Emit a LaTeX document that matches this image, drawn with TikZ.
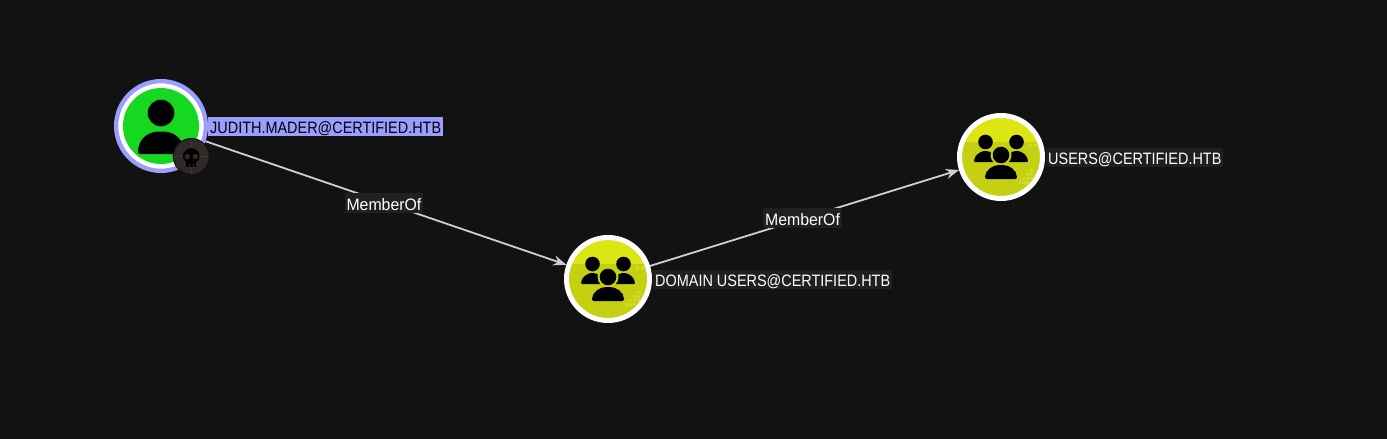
\documentclass[tikz,border=0pt]{standalone}
\usepackage{fontspec}
\setmainfont{Liberation Sans}[FakeStretch=0.875]
\newfontfamily\edgefont{Liberation Sans}[FakeStretch=0.96]
\usetikzlibrary{arrows.meta, positioning, calc}
\definecolor{bgdark}{HTML}{121212}
\definecolor{ringblue}{HTML}{9A9EFF}
\definecolor{usergreen}{HTML}{17D820}
\definecolor{groupbright}{HTML}{DCE612}
\definecolor{groupdim}{HTML}{C6D012}
\definecolor{groupspeck}{HTML}{D2DB26}
\definecolor{tagdark}{HTML}{202020}
\definecolor{badgebrown}{HTML}{2F2927}
\definecolor{badgeline}{HTML}{3E3532}
\definecolor{edgegrey}{HTML}{D0D0D0}
\tikzset{
    groupnode/.style={circle, draw=white, line width=5pt, minimum size=83pt, inner sep=0pt,
        path picture={
            \fill[groupdim] (path picture bounding box.south west) rectangle (path picture bounding box.north east);
            \fill[groupbright] (path picture bounding box.north west) rectangle ($(path picture bounding box.east)+(0,-15)$);
            % Faint specks
            \foreach \dx/\dy in {17/24, 21/20, 25/16, 21/24, 25/20, 29/16, 25/24, 29/12, 29/20, 33/-13, 28/-13} {
                \fill[groupspeck] ($(path picture bounding box.center)+(\dx,\dy)$) rectangle +(3,3);
            }
        }},
    nametag/.style={fill=tagdark, text=white, inner xsep=2pt, inner ysep=0pt, text height=17pt, text depth=2.6pt, font=\fontsize{16.5}{18}\selectfont},
    edgetag/.style={nametag, midway, xshift=-2pt, font=\edgefont\fontsize{16.5}{18}\selectfont},
    memberedge/.style={-{Stealth[length=13pt, width=10pt]}, edgegrey, line width=1.8pt},
    person/.pic={
        \fill (0,-13) circle (13.3);
        \fill[rounded corners=2pt] (-23,28) .. controls (-23,13) and (-13,5.5) .. (0,5.5) .. controls (13,5.5) and (23,13) .. (23,28) -- cycle;
    },
    people/.pic={
        % Back pair
        \foreach \s in {-1,1} {
            \fill (\s*15.5,-15) circle (7.3);
            \fill[rounded corners=1pt] (\s*27,5) .. controls (\s*27,-1) and (\s*21,-6) .. (\s*15.5,-6) .. controls (\s*10,-6) and (\s*5,-1) .. (\s*5,5) -- cycle;
        }
        % Front one
        \fill[groupdim] (0,-2) circle (10.5);
        \fill (0,-2) circle (8.3);
        \fill[rounded corners=2pt] (-16,22) .. controls (-16,13) and (-8,8) .. (0,8) .. controls (8,8) and (16,13) .. (16,22) -- cycle;
    },
    skull/.pic={
        \fill (0,-0.5) ellipse (8.3 and 7.8);
        \fill (-5,4) rectangle (5,10.5);
        \fill[badgebrown] (-4,0) circle (2.7);
        \fill[badgebrown] (4,0) circle (2.7);
        \foreach \dx in {-1.7,1.7} {
            \draw[badgebrown, line width=0.7pt] (\dx,7) -- (\dx,10.5);
        }
    }
}
\begin{document}
\begin{tikzpicture}[x=1pt, y=-1pt, >=Stealth]
    \fill[bgdark] (0,0) rectangle (1387,439);
    \useasboundingbox (0,0) rectangle (1387,439);
    % User node with its ring
    \node[circle, draw=ringblue, fill=white, line width=4.3pt, minimum size=89.7pt, inner sep=0pt] (user) at (161,126) {};
    \fill[usergreen] (user) circle (38);
    \pic at (user) {person};
    \node[nametag, fill=ringblue, text=black, right=0pt of user, yshift=-0.5pt] (userlabel) {JUDITH.MADER@CERTIFIED.HTB};
    % Owned badge
    \node[circle, fill=badgebrown, draw=bgdark, line width=1pt, minimum size=36pt, inner sep=0pt] (badge) at (191.3,156.5) {};
    \draw[badgeline, line width=0.6pt, shorten >=1.5pt, shorten <=1.5pt] (badge.north) -- (badge.south);
    \draw[badgeline, line width=0.6pt, shorten >=1.5pt, shorten <=1.5pt] (badge.west) -- (badge.east);
    \pic at (badge) {skull};
    % Group nodes
    \node[groupnode] (dgroup) at (608,279) {};
    \pic at (dgroup) {people};
    \node[nametag, right=1pt of dgroup, yshift=-0.5pt] (dlabel) {DOMAIN USERS@CERTIFIED.HTB};
    \node[groupnode] (ugroup) at (1001,157) {};
    \pic at (ugroup) {people};
    \node[nametag, right=1pt of ugroup, yshift=-0.5pt] (ulabel) {USERS@CERTIFIED.HTB};
    % Edges
    \draw[memberedge] (user) -- (dgroup) node[edgetag] (tagone) {MemberOf};
    \draw[memberedge] (dgroup) -- (ugroup) node[edgetag] (tagtwo) {MemberOf};
\end{tikzpicture}
\end{document}
